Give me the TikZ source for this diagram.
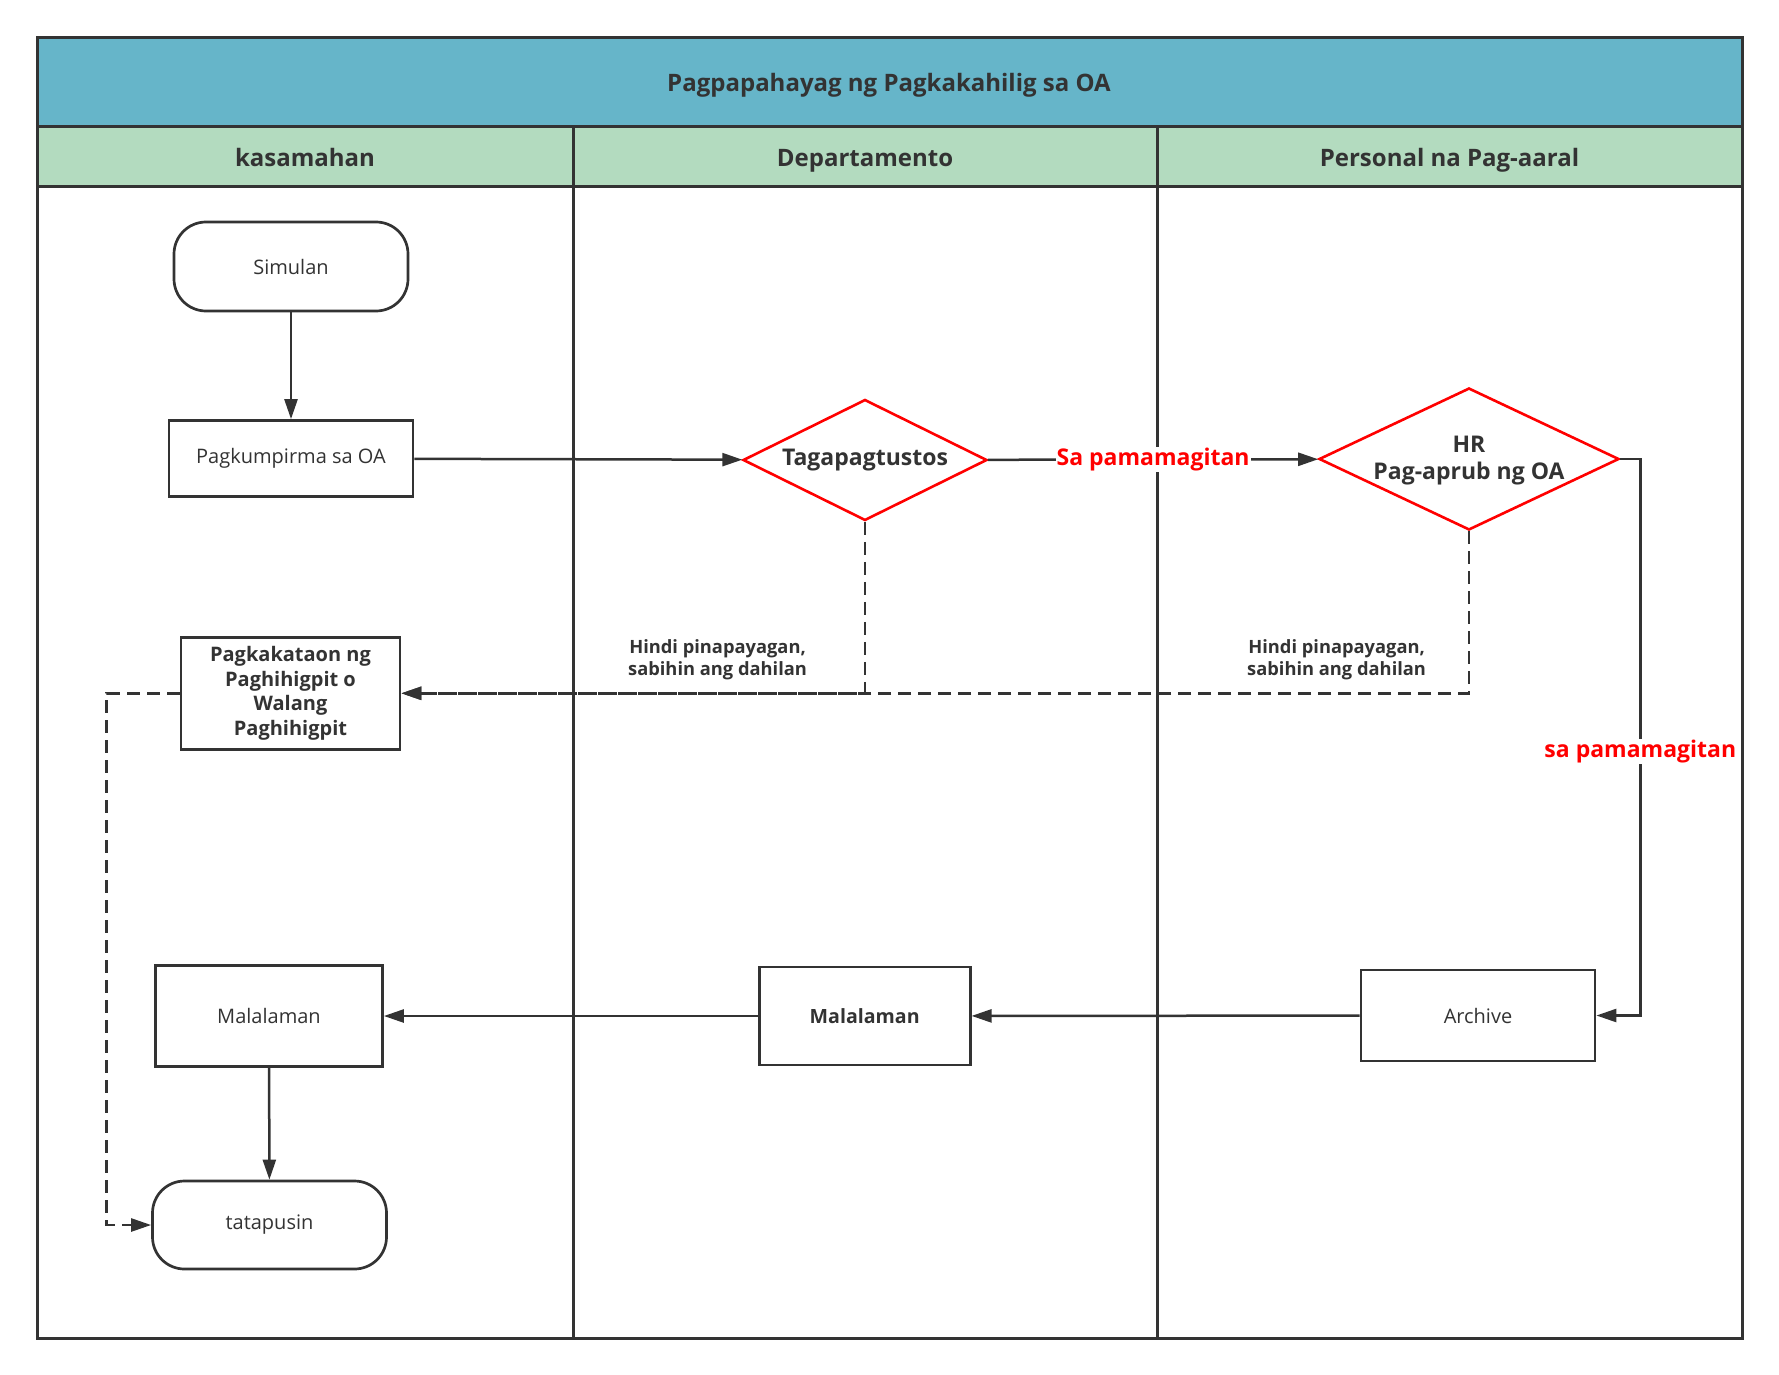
\documentclass[tikz,border=0pt]{standalone}
\usepackage{fontspec}
\setmainfont{Open Sans}
\usepackage{xcolor}
\usetikzlibrary{arrows.meta,positioning,shapes.geometric}

\definecolor{titleblue}{HTML}{66B5C9}
\definecolor{headgreen}{HTML}{B3DBBF}
\definecolor{ink}{HTML}{333333}
\definecolor{alert}{HTML}{FF0000}

\begin{document}
\begin{tikzpicture}[
  x=1pt, y=-1pt,
  frame/.style={draw=ink, line width=3pt},
  lanehead/.style={font=\fontsize{24}{28}\selectfont\bfseries, text=ink, text height=17pt, text depth=5pt, yshift=-4pt},
  box/.style={draw=ink, line width=2.7pt, align=center, inner sep=2pt, text=ink, font=\fontsize{20}{24}\selectfont},
  term/.style={box, rounded corners=32pt},
  decision/.style={draw=alert, diamond, line width=2.6pt, inner sep=0pt},
  dectext/.style={font=\fontsize{23}{27}\selectfont\bfseries, text=ink, align=center},
  note/.style={font=\fontsize{18.3}{22}\selectfont\bfseries, text=ink, align=center},
  via/.style={font=\fontsize{23}{26}\selectfont\bfseries, text=alert, fill=white, inner sep=1pt},
  arr/.style={-{Triangle[length=20pt, width=13pt]}, draw=ink, line width=2.5pt},
  back/.style={arr, dash pattern=on 13pt off 7pt}
]
\useasboundingbox (0,0) rectangle (1779,1375);

% pool and lanes
\fill[titleblue] (37.5,37.5) rectangle (1742,126.5);
\fill[headgreen] (37.5,126.5) rectangle (1742,187);
\draw[frame] (37.5,126.5) -- (1742,126.5);
\draw[frame] (37.5,187) -- (1742,187);
\draw[frame] (573,126.5) -- (573,1338);
\draw[frame] (1157,126.5) -- (1157,1338);
\draw[frame] (37.5,37.5) rectangle (1742,1338);
\node[lanehead] (pool) at (889,82) {Pagpapahayag ng Pagkakahilig sa OA};
\node[lanehead] (lane1) at (305,157) {kasamahan};
\node[lanehead] (lane2) at (865,157) {Departamento};
\node[lanehead] (lane3) at (1449.5,157) {Personal na Pag-aaral};

% steps
\node[term, minimum width=234pt, minimum height=89pt] (start) at (291,266.5) {Simulan};
\node[box, minimum width=244pt, minimum height=76pt] (confirm) at (291,458.5) {Pagkumpirma sa OA};
\node[decision, minimum width=244pt, minimum height=121pt,
  label={[dectext]center:Tagapagtustos}] (fund) at (865,460) {};
\node[decision, minimum width=300pt, minimum height=142pt,
  label={[dectext, yshift=-2pt]center:HR\\Pag-aprub ng OA}] (hr) at (1469,459) {};
\node[box, font=\fontsize{20}{24.4}\selectfont\bfseries, minimum width=219pt, minimum height=112pt] (limit) at (290.5,693.3)
  {Pagkakataon ng\\Paghihigpit o\\Walang\\Paghihigpit};
\node[box, minimum width=227pt, minimum height=101pt] (mal1) at (269,1016) {Malalaman};
\node[box, font=\fontsize{19.6}{24}\selectfont\bfseries, minimum width=211pt, minimum height=98pt] (mal2) at (864.7,1016) {Malalaman};
\node[box, minimum width=234pt, minimum height=91pt] (archive) at (1478,1015.5) {Archive};
\node[term, minimum width=234pt, minimum height=88pt] (end) at (269.5,1225) {tatapusin};

% flow
\draw[arr] (start) -- (confirm);
\draw[arr] (confirm) -- (fund);
\draw[arr] (fund) -- node[via] {Sa pamamagitan} (hr);
\draw[arr] (hr.east) -- ++(20,0) |- node[via, pos=0.263] {sa pamamagitan} (archive.east);
\draw[back] (fund.south) |- node[note, pos=0.659, above=9pt] {Hindi pinapayagan,\\sabihin ang dahilan} (limit.east);
\draw[back] (hr.south) |- node[note, pos=0.562, above=9pt] {Hindi pinapayagan,\\sabihin ang dahilan} (limit.east);
\draw[back] (limit.west) -- ++(-73,0) |- (end.west);
\draw[arr] (archive) -- (mal2);
\draw[arr] (mal2) -- (mal1);
\draw[arr] (mal1) -- (end);
\end{tikzpicture}
\end{document}
